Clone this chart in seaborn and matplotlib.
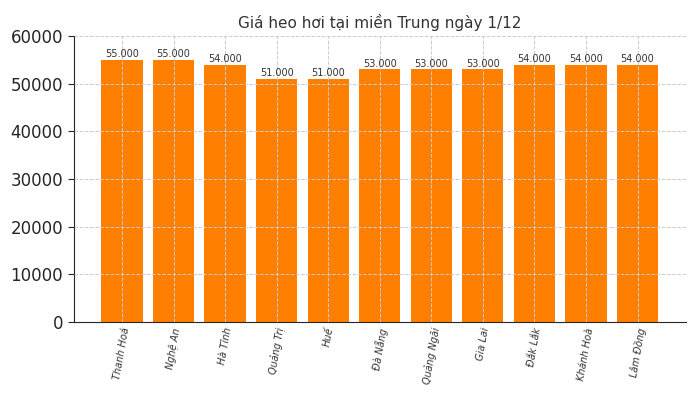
import pandas as pd
import seaborn as sns
import matplotlib.pyplot as plt

provinces = ['Thanh Hoá', 'Nghệ An', 'Hà Tĩnh', 'Quảng Trị', 'Huế', 'Đà Nẵng',
             'Quảng Ngãi', 'Gia Lai', 'Đắk Lắk', 'Khánh Hoà', 'Lâm Đồng']
prices = [55000, 55000, 54000, 51000, 51000, 53000, 53000, 53000, 54000, 54000, 54000]

df = pd.DataFrame({'province': provinces, 'price': prices})

sns.set_style('white')
plt.rcParams['font.family'] = ['DejaVu Sans']

fig, ax = plt.subplots(figsize=(7, 4), dpi=100)
sns.barplot(x='province', y='price', data=df, color='#ff8000', saturation=1,
            width=0.8, linewidth=0, ax=ax)

for i, p in enumerate(prices):
    ax.text(i, p + 150, f'{p:,}'.replace(',', '.'), ha='center', va='bottom',
            fontsize=7, color='#333333')

ax.set_ylim(0, 60000)
ax.set_xlim(-0.94, 10.94)
ax.set_title('Giá heo hơi tại miền Trung ngày 1/12', fontsize=11, color='#333333')
ax.set_xlabel('')
ax.set_ylabel('')
ax.tick_params(axis='y', labelsize=12, direction='out', length=4, left=True)
ax.tick_params(axis='x', labelsize=7, length=0)
for lbl in ax.get_xticklabels():
    lbl.set_rotation(80)
    lbl.set_fontstyle('italic')
    lbl.set_color('#333333')
ax.grid(True, linestyle='--', color='#cccccc', linewidth=0.7)
ax.set_axisbelow(False)
sns.despine(ax=ax)

plt.subplots_adjust(left=0.105, right=0.98, top=0.91, bottom=0.195)
plt.savefig('out.png')
